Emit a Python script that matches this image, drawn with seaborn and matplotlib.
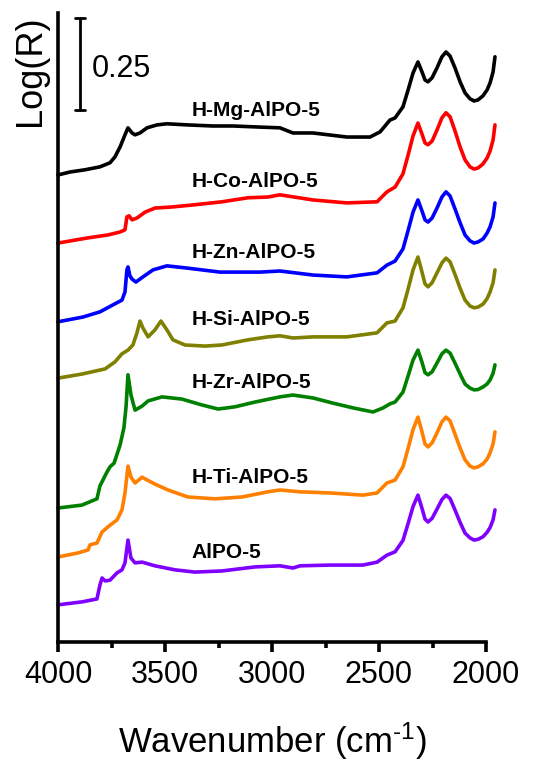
import matplotlib
matplotlib.use('Agg')
import matplotlib.pyplot as plt
import seaborn as sns

names = ['H-Mg-AlPO-5', 'H-Co-AlPO-5', 'H-Zn-AlPO-5', 'H-Si-AlPO-5',
         'H-Zr-AlPO-5', 'H-Ti-AlPO-5', 'AlPO-5']
colors = ['#000000', '#ff0000', '#0000ff', '#808000', '#008000', '#ff8000', '#8000ff']
label_y = [1.445, 1.250, 1.057, 0.875, 0.704, 0.448, 0.242]

# spectra, already shifted for stacking
# 4000 - ~2450 cm-1 part, read per sample
wn_mg = [4000, 3944, 3874, 3804, 3757, 3734, 3710, 3687, 3673, 3654, 3640, 3617, 3584, 3537,
         3491, 3397, 3276, 3182, 3056, 2963, 2902, 2808, 2650, 2542, 2495, 2449]
lr_mg = [1.269, 1.277, 1.283, 1.291, 1.302, 1.318, 1.345, 1.378, 1.397, 1.383, 1.378, 1.383, 1.397, 1.405,
         1.408, 1.405, 1.402, 1.402, 1.399, 1.397, 1.383, 1.383, 1.372, 1.372, 1.386, 1.418]

wn_co = [4000, 3860, 3766, 3710, 3687, 3678, 3668, 3654, 3631, 3593, 3547, 3467, 3360, 3234,
         3112, 3019, 2963, 2808, 2650, 2509, 2463]
lr_co = [1.084, 1.098, 1.106, 1.114, 1.120, 1.155, 1.158, 1.147, 1.152, 1.168, 1.179, 1.182, 1.188, 1.196,
         1.207, 1.209, 1.215, 1.201, 1.193, 1.196, 1.223]

wn_zn = [4000, 3883, 3804, 3743, 3701, 3687, 3678, 3673, 3664, 3654, 3636, 3603, 3556, 3491,
         3397, 3243, 3056, 2963, 2808, 2650, 2509, 2463]
lr_zn = [0.870, 0.883, 0.897, 0.916, 0.929, 0.951, 1.011, 1.019, 0.995, 0.986, 0.978, 0.992, 1.011, 1.022,
         1.016, 1.005, 1.005, 1.008, 0.997, 0.992, 1.003, 1.024]

wn_si = [4000, 3888, 3780, 3734, 3701, 3673, 3650, 3631, 3617, 3603, 3579, 3547, 3519, 3491,
         3463, 3407, 3313, 3234, 3112, 3019, 2963, 2902, 2808, 2650, 2509, 2463]
lr_si = [0.717, 0.728, 0.742, 0.761, 0.783, 0.793, 0.807, 0.840, 0.872, 0.853, 0.829, 0.848, 0.872, 0.848,
         0.821, 0.807, 0.804, 0.807, 0.821, 0.829, 0.832, 0.826, 0.829, 0.829, 0.840, 0.867]

wn_zr = [4000, 3888, 3818, 3804, 3771, 3757, 3738, 3710, 3692, 3682, 3673, 3659, 3640, 3607,
         3579, 3514, 3421, 3327, 3252, 3173, 3079, 2963, 2902, 2808, 2715, 2621, 2528, 2481, 2449]
lr_zr = [0.364, 0.372, 0.389, 0.424, 0.462, 0.476, 0.486, 0.535, 0.582, 0.639, 0.726, 0.671, 0.630, 0.641,
         0.655, 0.666, 0.660, 0.644, 0.633, 0.639, 0.652, 0.666, 0.671, 0.663, 0.649, 0.636, 0.625, 0.636, 0.647]

wn_ti = [4000, 3907, 3860, 3850, 3818, 3794, 3766, 3724, 3701, 3687, 3673, 3659, 3640, 3607,
         3593, 3547, 3486, 3393, 3266, 3140, 3019, 2963, 2869, 2729, 2575, 2509, 2463]
lr_ti = [0.231, 0.242, 0.250, 0.264, 0.269, 0.299, 0.313, 0.332, 0.359, 0.405, 0.478, 0.448, 0.432, 0.448,
         0.443, 0.429, 0.413, 0.394, 0.389, 0.394, 0.408, 0.413, 0.408, 0.405, 0.399, 0.405, 0.432]

wn_al = [4000, 3888, 3818, 3804, 3794, 3780, 3757, 3724, 3701, 3687, 3673, 3659, 3640, 3607,
         3547, 3453, 3360, 3234, 3079, 2963, 2902, 2869, 2729, 2575, 2509, 2463]
lr_al = [0.101, 0.109, 0.117, 0.155, 0.174, 0.166, 0.168, 0.188, 0.196, 0.215, 0.277, 0.228, 0.215, 0.217,
         0.207, 0.196, 0.190, 0.193, 0.204, 0.207, 0.201, 0.207, 0.209, 0.209, 0.217, 0.236]

# framework overtone bands 2425 - 1958 cm-1, same wavenumbers for every sample
wn_band = [2425, 2388, 2364, 2341, 2318, 2299, 2285, 2271, 2252, 2229, 2206, 2187,
           2168, 2145, 2121, 2098, 2075, 2056, 2037, 2014, 1995, 1981, 1967, 1958]
band_mg = [1.424, 1.454, 1.500, 1.546, 1.576, 1.549, 1.527, 1.522, 1.533, 1.560, 1.590, 1.603,
           1.592, 1.560, 1.522, 1.492, 1.476, 1.470, 1.473, 1.484, 1.500, 1.519, 1.549, 1.590]
band_co = [1.236, 1.272, 1.323, 1.375, 1.410, 1.380, 1.356, 1.351, 1.361, 1.391, 1.424, 1.438,
           1.427, 1.389, 1.345, 1.310, 1.291, 1.285, 1.288, 1.299, 1.315, 1.334, 1.364, 1.405]
band_zn = [1.035, 1.068, 1.118, 1.168, 1.201, 1.171, 1.147, 1.141, 1.152, 1.179, 1.209, 1.223,
           1.212, 1.177, 1.139, 1.106, 1.090, 1.084, 1.087, 1.095, 1.111, 1.128, 1.155, 1.193]
band_si = [0.872, 0.908, 0.959, 1.011, 1.046, 1.005, 0.973, 0.965, 0.976, 1.003, 1.030, 1.043,
           1.033, 0.999, 0.961, 0.929, 0.913, 0.908, 0.910, 0.918, 0.933, 0.951, 0.976, 1.011]
band_zr = [0.652, 0.679, 0.723, 0.766, 0.793, 0.760, 0.732, 0.726, 0.734, 0.758, 0.783, 0.793,
           0.785, 0.758, 0.728, 0.701, 0.690, 0.685, 0.686, 0.693, 0.701, 0.712, 0.730, 0.753]
band_ti = [0.440, 0.476, 0.526, 0.577, 0.611, 0.571, 0.538, 0.530, 0.541, 0.568, 0.598, 0.611,
           0.601, 0.565, 0.527, 0.495, 0.478, 0.473, 0.476, 0.484, 0.497, 0.514, 0.538, 0.571]
band_al = [0.245, 0.276, 0.322, 0.368, 0.399, 0.363, 0.334, 0.326, 0.336, 0.361, 0.387, 0.399,
           0.390, 0.359, 0.325, 0.296, 0.283, 0.277, 0.279, 0.286, 0.298, 0.311, 0.332, 0.359]

spectra = [(wn_mg, lr_mg, band_mg), (wn_co, lr_co, band_co), (wn_zn, lr_zn, band_zn),
           (wn_si, lr_si, band_si), (wn_zr, lr_zr, band_zr), (wn_ti, lr_ti, band_ti),
           (wn_al, lr_al, band_al)]

sns.set_style('ticks')
plt.rcParams['font.family'] = ['Liberation Sans', 'DejaVu Sans']
plt.rcParams['mathtext.fontset'] = 'custom'
plt.rcParams['mathtext.rm'] = 'Liberation Sans'
plt.rcParams['mathtext.it'] = 'Liberation Sans:italic'
plt.rcParams['text.color'] = 'black'
plt.rcParams['axes.labelcolor'] = 'black'
plt.rcParams['xtick.color'] = 'black'
plt.rcParams['axes.edgecolor'] = 'black'

fig = plt.figure(figsize=(5.33, 7.62), dpi=100)
ax = fig.add_axes([58 / 533, 1 - 642 / 762, 428 / 533, 629 / 762])

for (wn, lr, band), c in zip(spectra, colors):
    sns.lineplot(x=wn + wn_band, y=lr + band, color=c, lw=2.6, sort=False,
                 estimator=None, clip_on=False, ax=ax)

for name, yy in zip(names, label_y):
    ax.text(3374, yy, name, fontsize=15, fontweight='bold', ha='left', va='center')

# scale bar
ax.plot([3897, 3897], [1.446, 1.696], color='black', lw=2)
ax.plot([3921, 3873], [1.696, 1.696], color='black', lw=2)
ax.plot([3921, 3873], [1.446, 1.446], color='black', lw=2)
ax.text(3841, 1.556, '0.25', fontsize=22, ha='left', va='center')

ax.set_xlim(4000, 2000)
ax.set_ylim(0, 1.709)
ax.set_xticks([4000, 3500, 3000, 2500, 2000])
ax.set_xticks([3750, 3250, 2750, 2250], minor=True)
ax.set_yticks([])
sns.despine(ax=ax)
for s in ['left', 'bottom']:
    ax.spines[s].set_linewidth(2.6)
    ax.spines[s].set_color('black')
ax.tick_params(axis='x', which='major', length=7, width=2.6, labelsize=22, pad=6, colors='black')
ax.tick_params(axis='x', which='minor', length=4, width=2.6, colors='black')

ax.set_xlabel(r'Wavenumber (cm$^{\text{-1}}$)', fontsize=25, labelpad=22)
ax.text(-0.065, 0.909, 'Log(R)', fontsize=26, rotation=90, ha='center', va='center',
        transform=ax.transAxes)

fig.savefig('out.png', dpi=100)
